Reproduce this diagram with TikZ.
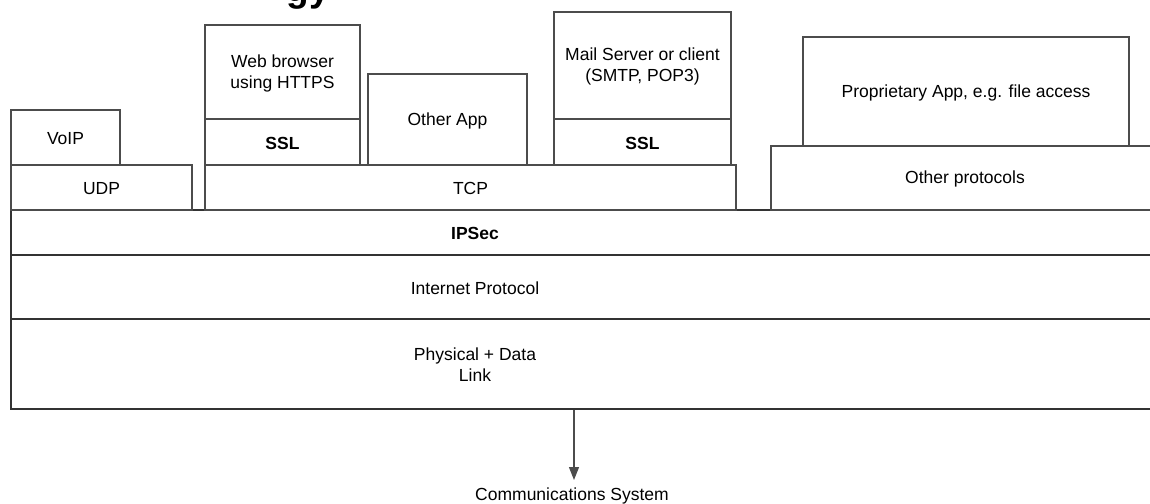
\documentclass[tikz,border=0pt]{standalone}
\usepackage{fontspec}
\setmainfont{Liberation Sans}
\usetikzlibrary{arrows.meta,fit}
\begin{document}
\begin{tikzpicture}[x=0.5pt,y=-0.5pt,
  box/.style={draw=black!70, line width=0.65pt, inner sep=0pt},
  layer/.style={draw=black!80, line width=0.7pt, inner sep=0pt},
  lbl/.style={inner sep=0pt, align=center, yshift=-0.5pt, font=\fontsize{8.75}{10.5}\selectfont},
  blbl/.style={lbl, font=\fontsize{8.75}{10.5}\selectfont\bfseries},
  conn/.style={draw=black!70, line width=0.65pt, -{Triangle[width=5pt,length=6.5pt]}}]
\useasboundingbox (0,0) rectangle (1150,503);
\clip (0,0) rectangle (1150,503);
% cut-off title fragment
\node[inner sep=0pt, anchor=base, font=\fontsize{18.5}{20}\selectfont\bfseries] (title) at (308,2) {gy};
% base layers
\node[layer, fit={(11,319)(1165,409)}] (phys) {};
\node[layer, fit={(11,255)(1165,319)}] (ip) {};
\node[layer, fit={(11,210)(1165,255)}] (ipsec) {};
\node[lbl] (physt) at (475,364) {Physical + Data\\Link};
\node[lbl] (ipt) at (475,287) {Internet Protocol};
\node[blbl] (ipsect) at (475,232.5) {IPSec};
% transport layers
\node[box, fit={(11,165)(192,210)}] (udp) {};
\node[box, fit={(205,165)(736,210)}] (tcp) {};
\node[box, fit={(771,146)(1165,210)}] (other) {};
\node[lbl] (udpt) at (udp.center) {UDP};
\node[lbl] (tcpt) at (tcp.center) {TCP};
\node[lbl] (othert) at (965,178) {Other protocols};
% upper boxes
\node[box, fit={(11,110)(120,165)}] (voip) {};
\node[box, fit={(205,119)(360,165)}] (ssl1) {};
\node[box, fit={(205,25)(360,119)}] (web) {};
\node[box, fit={(368,74)(527,165)}] (oapp) {};
\node[box, fit={(554,119)(731,165)}] (ssl2) {};
\node[box, fit={(554,12)(731,119)}] (mail) {};
\node[box, fit={(803,37)(1129,146)}] (prop) {};
\node[lbl] (voipt) at (voip.center) {VoIP};
\node[blbl] (ssl1t) at (ssl1.center) {SSL};
\node[lbl] (webt) at (web.center) {Web browser\\using HTTPS};
\node[lbl] (oappt) at (oapp.center) {Other App};
\node[blbl] (ssl2t) at (ssl2.center) {SSL};
\node[lbl] (mailt) at (mail.center) {Mail Server or client\\(SMTP, POP3)};
\node[lbl] (propt) at (prop.center) {Proprietary App, e.g. file access};
% output
\coordinate (tip) at (574,480);
\node[lbl, anchor=base, yshift=0.5pt] (comm) at (572,500) {Communications System};
\draw[conn] (phys.south -| tip) -- (tip);
\end{tikzpicture}
\end{document}
